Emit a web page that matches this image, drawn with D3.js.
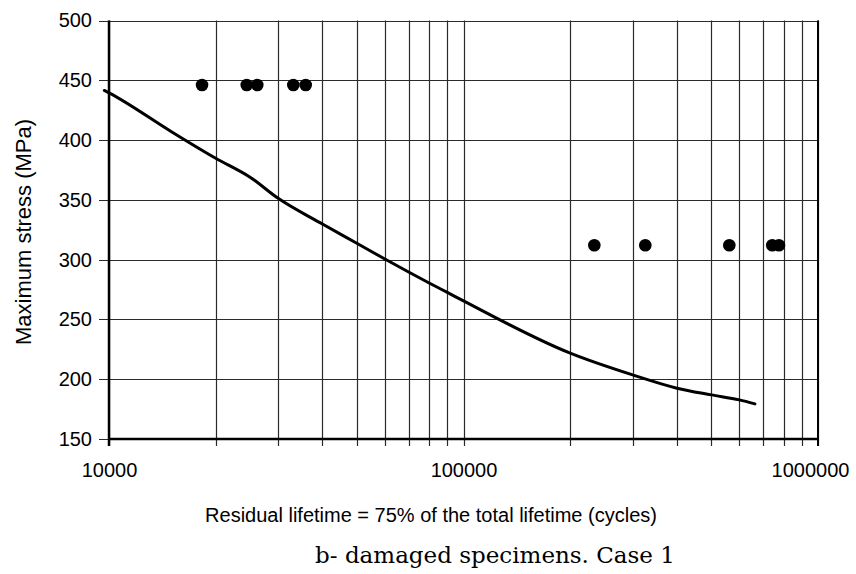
<!DOCTYPE html>
<html>
<head>
<meta charset="utf-8">
<script src="https://cdn.jsdelivr.net/npm/d3@7/dist/d3.min.js"></script>
<style>
  html, body { margin: 0; padding: 0; background: #fff; }
  svg { display: block; }
</style>
</head>
<body>
<svg id="chart" width="856" height="574"></svg>
<script>
// S-N curve (cycles vs maximum stress)
const curveCycles = [9700, 10000, 15000, 20000, 25000, 30000, 40000, 50000, 60000, 70000, 80000, 90000, 100000, 200000, 300000, 400000, 500000, 600000, 664000];
const curveStress = [441.5, 439.5, 407, 384.8, 369, 351.3, 329.8, 313.7, 300.5, 289.7, 280.5, 272.6, 265.5, 221.8, 203.6, 192.5, 186.9, 182.7, 179.4];

// Tested damaged specimens: residual lifetime and applied maximum stress
const testCycles = [18300, 24460, 26200, 33110, 35880, 233900, 325700, 562100, 743000, 776000];
const testStress = [446, 446, 446, 446, 446, 312, 312, 312, 312, 312];

const xTickValues = [10000, 100000, 1000000];
const yTickValues = [150, 200, 250, 300, 350, 400, 450, 500];

const xTitle = "Residual lifetime = 75% of the total lifetime (cycles)";
const yTitle = "Maximum stress (MPa)";
const caption = "b- damaged specimens. Case 1";

const sans = "Liberation Sans, Arial, sans-serif";
const svg = d3.select("#chart");
const plotLeft = 109, plotRight = 818, plotTop = 20.5, plotBottom = 439;

const x = d3.scaleLog().domain([1e4, 1e6]).range([plotLeft, plotRight]);
const y = d3.scaleLinear().domain([150, 500]).range([plotBottom, plotTop]);

// minor + major vertical grid positions on the log axis
const xGrid = [];
for (let e = 4; e < 6; e++) for (let m = 1; m <= 9; m++) xGrid.push(m * Math.pow(10, e));
xGrid.push(1e6);

const grid = svg.append("g");
grid.selectAll("line.v").data(xGrid).join("line")
  .attr("x1", d => Math.round(x(d)) + 0.5).attr("x2", d => Math.round(x(d)) + 0.5)
  .attr("y1", plotTop).attr("y2", plotBottom + 7)
  .attr("stroke", "#2a2a2a").attr("stroke-width", 1.2);
grid.selectAll("line.h").data(yTickValues).join("line")
  .attr("x1", plotLeft - 10).attr("x2", plotRight)
  .attr("y1", d => Math.round(y(d)) + 0.5).attr("y2", d => Math.round(y(d)) + 0.5)
  .attr("stroke", "#2a2a2a").attr("stroke-width", 1.2);

// axes
const xAxis = d3.axisBottom(x).tickValues(xTickValues).tickFormat(d3.format("d")).tickSize(0).tickPadding(0);
const gx = svg.append("g").attr("transform", `translate(0,${plotBottom})`).call(xAxis);
gx.select(".domain").remove();
gx.selectAll("text").attr("font-family", sans)
  .attr("font-size", 20).attr("fill", "#000").attr("y", 31).attr("dy", "0.35em");
gx.selectAll(".tick").filter(d => d === 1e6).select("text").attr("dx", -8);

const yAxis = d3.axisLeft(y).tickValues(yTickValues).tickSize(0).tickPadding(17);
const gy = svg.append("g").attr("transform", `translate(${plotLeft},0)`).call(yAxis);
gy.select(".domain").remove();
gy.selectAll("text").attr("font-family", sans)
  .attr("font-size", 20).attr("fill", "#000");

svg.append("line").attr("x1", plotLeft).attr("x2", plotLeft).attr("y1", plotTop).attr("y2", plotBottom + 7)
  .attr("stroke", "#000").attr("stroke-width", 2.5);
svg.append("line").attr("x1", plotLeft).attr("x2", plotRight + 1).attr("y1", plotBottom).attr("y2", plotBottom)
  .attr("stroke", "#000").attr("stroke-width", 2.5);
svg.append("line").attr("x1", plotRight).attr("x2", plotRight).attr("y1", plotTop).attr("y2", plotBottom + 7)
  .attr("stroke", "#000").attr("stroke-width", 2);

// curve
const curveData = curveCycles.map((c, i) => [c, curveStress[i]]);
svg.append("path").datum(curveData)
  .attr("d", d3.line().x(d => x(d[0])).y(d => y(d[1])).curve(d3.curveMonotoneX))
  .attr("fill", "none").attr("stroke", "#000").attr("stroke-width", 3)
  .attr("stroke-linecap", "round");

// test points
svg.append("g").selectAll("circle").data(testCycles.map((c, i) => [c, testStress[i]])).join("circle")
  .attr("cx", d => x(d[0])).attr("cy", d => y(d[1])).attr("r", 6.3).attr("fill", "#000");

// titles
svg.append("text").attr("x", 431).attr("y", 515).attr("text-anchor", "middle")
  .attr("dominant-baseline", "central")
  .attr("font-family", sans).attr("font-size", 20).text(xTitle);
svg.append("text").attr("transform", "translate(23,232) rotate(-90)").attr("text-anchor", "middle")
  .attr("dominant-baseline", "central")
  .attr("font-family", sans).attr("font-size", 22).text(yTitle);
svg.append("text").attr("x", 495).attr("y", 555).attr("text-anchor", "middle")
  .attr("dominant-baseline", "central")
  .attr("font-family", "DejaVu Serif, serif").attr("font-size", 23).text(caption);
</script>
</body>
</html>
